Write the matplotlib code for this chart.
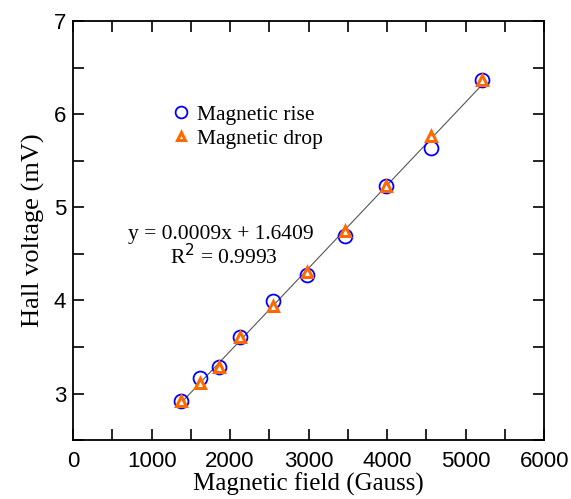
import numpy as np
import matplotlib.pyplot as plt
from matplotlib.ticker import MultipleLocator

# readings
field = [1376, 1618, 1860, 2127, 2548, 2981, 3465, 3987, 4560, 5210]
v_rise = [2.92, 3.17, 3.28, 3.61, 3.99, 4.27, 4.69, 5.23, 5.64, 6.37]
v_drop = [2.92, 3.11, 3.28, 3.61, 3.94, 4.31, 4.74, 5.23, 5.77, 6.37]

fig = plt.figure(figsize=(5.71, 4.99), dpi=100)
ax = fig.add_axes([0.128, 0.118, 0.825, 0.840])

xs = np.array([field[0], field[-1]])
ax.plot(xs, np.polyval(np.polyfit(field + field, v_rise + v_drop, 1), xs),
        color='#555555', lw=0.8, zorder=1)
ax.plot(field, v_rise, 'o', ms=10, mfc='none', mec='#0000ff', mew=1.3,
        label='Magnetic rise', zorder=2)
ax.plot(field, v_drop, '^', ms=7.5, mfc='white', mec='#ff6a00', mew=2.2,
        label='Magnetic drop', zorder=3)

ax.set_xlim(0, 6000)
ax.set_ylim(2.5, 7)
ax.xaxis.set_major_locator(MultipleLocator(1000))
ax.xaxis.set_minor_locator(MultipleLocator(500))
ax.yaxis.set_major_locator(MultipleLocator(1))
ax.yaxis.set_minor_locator(MultipleLocator(0.5))
ax.tick_params(which='both', direction='in', top=True, right=True, width=1.2,
               length=8)
ax.tick_params(axis='x', labelsize=16, pad=8)
ax.tick_params(axis='y', labelsize=16, pad=5)
for lab in ax.get_xticklabels() + ax.get_yticklabels():
    lab.set_family('Liberation Sans')
for s in ax.spines.values():
    s.set_linewidth(1.3)

serif = {'family': 'Liberation Serif'}
ax.set_xlabel('Magnetic field (Gauss)', fontsize=18, labelpad=0, **serif)
ax.set_ylabel('Hall voltage (mV)', fontsize=19, labelpad=6, **serif)

ax.text(700, 4.71, 'y = 0.0009x + 1.6409', fontsize=15.5, ha='left', va='center', **serif)
ax.text(1230, 4.47, r'R$^2$ = 0.9993', fontsize=15.5, ha='left', va='center', **serif)

ax.legend(loc='upper left', bbox_to_anchor=(0.165, 0.847), frameon=False,
          prop={'family': 'Liberation Serif', 'size': 15.5}, markerscale=0.85,
          handletextpad=0.25, labelspacing=0.2, handlelength=1.0)

plt.savefig('out.png', dpi=100)
